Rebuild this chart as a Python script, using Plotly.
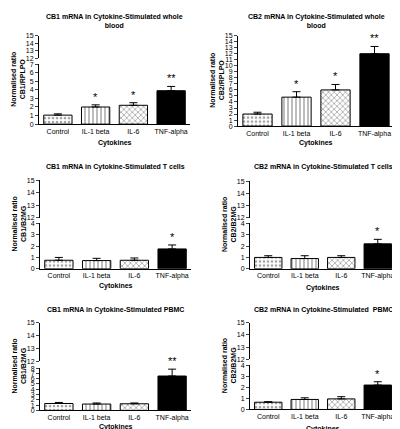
import plotly.graph_objects as go

categories = ["Control", "IL-1 beta", "IL-6", "TNF-alpha"]
titles = ["CB1 mRNA in Cytokine-Stimulated whole<br>blood",
          "CB2 mRNA in Cytokine-Stimulated whole<br>blood",
          "CB1 mRNA in Cytokine-Stimulated T cells",
          "CB2 mRNA in Cytokine-Stimulated T cells",
          "CB1 mRNA in Cytokine-Stimulated PBMC",
          "CB2 mRNA in Cytokine-Stimulated  PBMC"]
ylabels = ["CB1/RPLPO", "CB2/RPLPO", "CB1/B2MG", "CB2/B2MG", "CB1/B2MG", "CB2/B2MG"]
values = [[1.05, 2.0, 2.2, 3.9],
          [2.0, 4.8, 6.0, 12.0],
          [0.75, 0.72, 0.75, 1.75],
          [1.0, 0.9, 1.0, 2.2],
          [1.3, 1.2, 1.25, 6.5],
          [0.65, 0.9, 0.95, 2.2]]
errors = [[0.15, 0.25, 0.3, 0.5],
          [0.3, 0.9, 0.9, 1.2],
          [0.25, 0.2, 0.2, 0.35],
          [0.15, 0.25, 0.15, 0.4],
          [0.2, 0.2, 0.15, 1.3],
          [0.05, 0.15, 0.2, 0.3]]
stars = [["", "*", "*", "**"], ["", "*", "*", "**"], ["", "", "", "*"],
         ["", "", "", "*"], ["", "", "", "**"], ["", "", "", "*"]]
lower_max = [7, 15, 4, 4, 8, 4]
broken = [True, False, True, True, True, True]

W, H = 400, 429
# pixel geometry: x0, x1, y15, y12, ylowtop, y0, ytitle, ycyto
geo = [(31, 182, 24, 47, 53, 114, 9, 133),
       (230, 386, 24, 47, 24, 116, 9, 133),
       (32, 183, 171, 209, 215, 261, 158, 279),
       (242, 388, 172, 209, 215, 261, 158, 281),
       (32, 183, 316, 355, 362, 405, 303, 422),
       (242, 388, 316, 353, 359, 404, 303, 424)]
FONT = "Liberation Sans"
patterns = [".", "|", "x", ""]
fills = ["white", "white", "white", "black"]

fig = go.Figure()
layout = {}
annotations = []
def py(p): return 1 - p / H

for i in range(6):
    x0, x1, y15, y12, ylt, y0, yt, yc = geo[i]
    xa = f"x{i+1}"
    ya = f"y{2*i+1}"
    yb = f"y{2*i+2}"
    fig.add_trace(go.Bar(
        x=categories, y=values[i], xaxis=xa, yaxis=ya, width=0.75,
        marker=dict(color=fills, line=dict(color="black", width=1),
                    pattern=dict(shape=patterns, fgcolor="black", bgcolor="white", size=4, solidity=0.35)),
        error_y=dict(type="data", array=errors[i], symmetric=False, arrayminus=[0]*4,
                     color="black", thickness=1, width=4),
        showlegend=False))
    for c, v, e, s in zip(categories, values[i], errors[i], stars[i]):
        if s:
            annotations.append(dict(x=c, y=v + e, xref=xa, yref=ya, text=s, showarrow=False,
                                    xanchor="center", yanchor="bottom",
                                    font=dict(size=11, color="black", family=FONT)))
    layout[f"xaxis{i+1}"] = dict(domain=[x0 / W, x1 / W], anchor=ya, showline=True, linecolor="black",
                                 linewidth=1, ticks="", tickfont=dict(size=7, family=FONT, color="black"),
                                 fixedrange=True, showgrid=False)
    lm = lower_max[i]
    layout[f"yaxis{2*i+1}"] = dict(domain=[py(y0), py(ylt)], anchor=xa, range=[0, lm],
                                   tickmode="linear", dtick=1, ticks="outside", ticklen=3,
                                   showline=True, linecolor="black", showgrid=False, zeroline=False,
                                   tickfont=dict(size=7, family=FONT, color="black"))
    if broken[i]:
        fig.add_trace(go.Scatter(x=[categories[0]], y=[13], xaxis=xa, yaxis=yb, mode="markers",
                                 marker=dict(opacity=0), showlegend=False, hoverinfo="skip"))
        layout[f"yaxis{2*i+2}"] = dict(domain=[py(y12), py(y15)], anchor=xa, range=[12, 15],
                                       tickmode="linear", dtick=1, ticks="outside", ticklen=3,
                                       showline=True, linecolor="black", showgrid=False, zeroline=False,
                                       tickfont=dict(size=7, family=FONT, color="black"))
    common = dict(xref="paper", yref="paper", showarrow=False, xanchor="center", yanchor="middle")
    annotations.append(dict(x=(x0 + x1) / 2 / W, y=py(yt), text="<b>" + titles[i] + "</b>",
                            font=dict(size=7, family=FONT, color="black"), **common))
    annotations.append(dict(x=(x0 + x1) / 2 / W, y=py(yc), text="<b>Cytokines</b>",
                            font=dict(size=7, family=FONT, color="black"), **common))
    annotations.append(dict(x=(x0 - 21) / W, y=py((y15 + y0) / 2),
                            text="<b>Normalised ratio<br>" + ylabels[i] + "</b>", textangle=-90,
                            font=dict(size=7, family=FONT, color="black"), **common))

fig.update_layout(width=W, height=H, margin=dict(l=0, r=0, t=0, b=0), plot_bgcolor="white",
                  paper_bgcolor="white", annotations=annotations, bargap=0.25, **layout)
fig.write_html("out.html")
